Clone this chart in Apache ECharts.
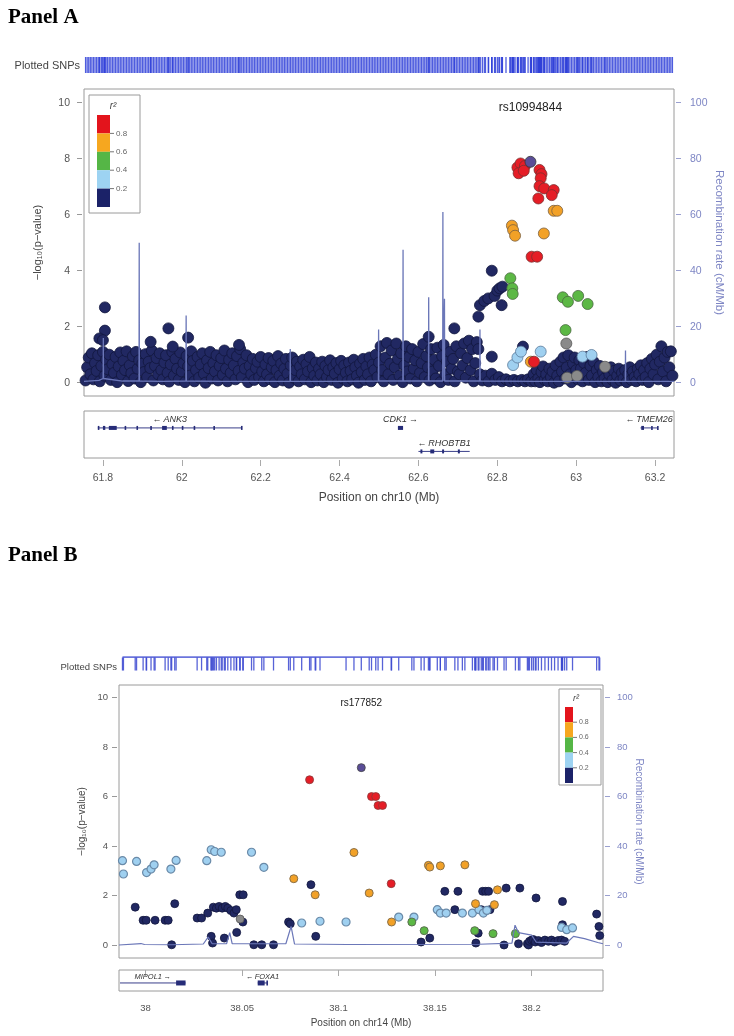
<!DOCTYPE html>
<html><head><meta charset="utf-8">
<script src="https://cdn.jsdelivr.net/npm/echarts@6/dist/echarts.min.js"></script>
<style>html,body{margin:0;padding:0;background:#fff}#c{width:734px;height:1036px}</style>
</head><body><div id="c"></div>
<script>
// ---------------- Panel A data (chr10, Mb / -log10 p) ----------------
const xTicksA = [61.8, 62, 62.2, 62.4, 62.6, 62.8, 63, 63.2];
const xTicksB = [38, 38.05, 38.1, 38.15, 38.2];
const yTicks = [0, 2, 4, 6, 8, 10];
const recTicks = [0, 20, 40, 60, 80, 100];
const r2Labels = ['0.8', '0.6', '0.4', '0.2'];

const navyA = [
[61.756,0.08],[61.760,0.55],[61.764,0.9],[61.768,0.3],[61.772,1.05],[61.776,0.12],[61.780,0.7],[61.784,0.42],[61.788,0.98],[61.792,0.05],[61.796,0.6],[61.800,1.1],[61.804,0.25],[61.808,0.82],[61.812,0.48],[61.816,1.0],[61.820,0.1],[61.824,0.66],[61.828,0.35],[61.832,0.92],[61.836,0.02],[61.840,0.58],[61.844,1.08],[61.848,0.28],[61.852,0.78],[61.856,0.45],[61.860,1.12],
[61.864,0.06],[61.868,0.62],[61.872,0.34],[61.876,0.95],[61.880,0.15],[61.884,1.1],[61.888,0.5],[61.892,0.8],[61.896,0.02],[61.900,0.68],[61.904,0.38],[61.908,1.02],[61.912,0.2],[61.916,0.75],[61.920,0.52],[61.924,1.15],[61.928,0.08],[61.932,0.6],[61.936,0.88],[61.940,0.3],[61.944,1.05],[61.948,0.45],[61.952,0.12],[61.956,0.72],[61.960,0.98],[61.964,0.35],[61.968,0.04],[61.972,0.65],[61.976,1.1],[61.980,0.25],
[61.984,0.85],[61.988,0.5],[61.992,0.1],[61.996,1.08],[62.000,0.4],[62.004,0.7],[62.008,0.02],[62.012,0.95],[62.016,0.58],[62.020,0.25],[62.024,1.12],[62.028,0.78],[62.032,0.05],[62.036,0.45],[62.040,0.92],[62.044,0.18],[62.048,0.65],[62.052,1.05],[62.056,0.32],[62.060,0.0],[62.064,0.8],[62.068,0.52],[62.072,1.1],[62.076,0.15],[62.080,0.7],[62.084,0.4],[62.088,0.98],[62.092,0.08],[62.096,0.6],[62.100,0.88],
[62.104,0.28],[62.108,1.15],[62.112,0.5],[62.116,0.05],[62.120,0.82],[62.124,0.35],[62.128,1.05],[62.132,0.62],[62.136,0.12],[62.140,0.95],[62.144,0.42],[62.148,1.2],[62.152,0.2],[62.156,0.72],[62.160,0.5],[62.164,0.98],[62.168,0.02],
[62.172,0.6],[62.176,0.3],[62.180,0.85],[62.184,0.1],[62.188,0.52],[62.192,0.75],[62.196,0.2],[62.200,0.92],[62.204,0.4],[62.208,0.05],[62.212,0.65],[62.216,0.3],[62.220,0.88],[62.224,0.12],[62.228,0.55],[62.232,0.78],[62.236,0.02],[62.240,0.45],[62.244,0.95],[62.248,0.25],[62.252,0.68],[62.256,0.08],[62.260,0.5],[62.264,0.85],[62.268,0.32],[62.272,0.0],[62.276,0.62],[62.280,0.9],[62.284,0.18],[62.288,0.45],[62.292,0.75],[62.296,0.05],[62.300,0.58],[62.304,0.3],[62.308,0.82],[62.312,0.12],[62.316,0.66],[62.320,0.4],[62.324,0.92],[62.328,0.02],[62.332,0.52],[62.336,0.25],[62.340,0.72],
[62.344,0.08],[62.348,0.5],[62.352,0.3],[62.356,0.75],[62.360,0.02],[62.364,0.6],[62.368,0.2],[62.372,0.45],[62.376,0.8],[62.380,0.1],[62.384,0.55],[62.388,0.32],[62.392,0.7],[62.396,0.0],[62.400,0.48],[62.404,0.78],[62.408,0.15],[62.412,0.62],[62.416,0.35],[62.420,0.05],[62.424,0.72],[62.428,0.42],[62.432,0.12],[62.436,0.82],[62.440,0.55],[62.444,0.25],[62.448,0.0],[62.452,0.68],[62.456,0.38],[62.460,0.85],[62.464,0.1],[62.468,0.58],[62.472,0.3],[62.476,0.9],[62.480,0.05],[62.484,0.65],[62.488,0.45],
[62.492,1.0],[62.496,0.2],[62.500,0.72],[62.504,1.3],[62.508,0.45],[62.512,0.05],[62.516,0.9],[62.520,1.42],[62.524,0.3],[62.528,0.68],[62.532,1.15],[62.536,0.1],[62.540,0.55],[62.544,1.4],[62.548,0.85],[62.552,0.25],[62.556,1.05],[62.560,0.02],[62.564,0.62],[62.568,1.3],[62.572,0.4],[62.576,0.92],[62.580,0.15],[62.584,1.2],[62.588,0.5],[62.592,0.8],[62.596,0.05],[62.600,1.1],[62.604,0.35],[62.608,0.7],[62.612,1.38],[62.616,0.2],[62.620,0.95],[62.624,0.55],[62.628,0.08],[62.632,1.2],[62.636,0.4],[62.640,0.82],
[62.644,0.15],[62.648,1.25],[62.652,0.6],[62.656,0.02],[62.660,0.95],[62.664,1.35],[62.668,0.3],[62.672,0.75],[62.676,0.1],[62.680,1.1],[62.684,0.5],[62.688,0.85],[62.692,0.05],[62.696,1.3],[62.700,0.4],[62.704,0.3],[62.708,1.05],[62.712,0.62],[62.716,1.4],[62.720,0.18],[62.724,0.88],[62.728,1.5],[62.732,0.45],[62.736,1.2],[62.740,0.05],[62.744,0.7],[62.748,1.45],[62.752,1.2],[62.756,0.3],
[62.762,0.08],[62.770,0.25],[62.778,0.05],[62.786,0.32],[62.795,0.1],[62.804,0.2],[62.812,0.05],[62.822,0.12],[62.832,0.05],[62.842,0.1],[62.852,0.05],[62.862,0.1],[62.870,0.05],[62.878,0.12],[62.886,0.05],
[62.892,0.3],[62.896,0.05],[62.900,0.45],[62.904,0.15],[62.908,0.02],[62.912,0.38],[62.916,0.58],[62.920,0.1],[62.924,0.3],[62.928,0.05],[62.932,0.5],[62.936,0.2],[62.940,0.4],[62.944,0.0],[62.948,0.62],
[62.952,0.25],[62.956,0.05],[62.960,0.75],[62.964,0.4],[62.968,0.9],[62.972,0.15],[62.976,0.55],[62.980,0.98],[62.984,0.3],[62.988,0.02],[62.992,0.68],[62.996,0.9],[63.000,0.45],[63.004,0.12],[63.008,0.8],[63.012,0.5],[63.016,0.05],[63.020,0.7],[63.024,0.35],[63.028,0.92],[63.032,0.1],[63.036,0.6],[63.040,0.25],[63.044,0.75],[63.048,0.02],
[63.052,0.45],[63.056,0.2],[63.060,0.6],[63.064,0.05],[63.068,0.38],[63.072,0.15],[63.076,0.5],[63.080,0.02],[63.084,0.3],[63.088,0.55],[63.092,0.1],[63.096,0.42],[63.100,0.0],[63.104,0.25],[63.108,0.5],[63.112,0.08],[63.116,0.35],[63.120,0.15],[63.124,0.45],[63.128,0.02],[63.132,0.3],[63.136,0.55],[63.140,0.1],[63.144,0.4],[63.148,0.2],[63.152,0.05],[63.156,0.5],[63.160,0.3],[63.164,0.62],[63.168,0.1],[63.172,0.45],[63.176,0.2],[63.180,0.7],[63.184,0.02],[63.188,0.5],[63.192,0.85],[63.196,0.3],
[63.200,0.65],[63.204,1.0],[63.208,0.12],[63.212,0.75],[63.216,1.3],[63.220,0.4],[63.224,0.9],[63.228,0.05],[63.232,1.1],[63.236,0.55],[63.240,1.12],[63.244,0.25],
// higher navy SNPs
[61.805,2.69],[61.805,1.86],[61.791,1.58],[61.800,1.52],[61.966,1.94],[61.977,1.29],[62.016,1.61],[61.921,1.46],[62.145,1.35],
[62.691,1.94],[62.626,1.64],[62.865,1.29],[62.752,2.36],[62.756,2.77],[62.767,2.92],[62.777,3.01],[62.786,4.00],[62.793,3.10],
[62.800,3.29],[62.806,3.37],[62.813,3.43],[62.811,2.77],[62.786,0.93]
];
const grayA   = [[62.975,1.40],[62.977,0.18],[63.002,0.24],[63.073,0.57]];
const lblueA  = [[62.840,0.63],[62.851,0.90],[62.860,1.11],[62.910,1.11],[63.016,0.93],[63.039,0.99]];
const greenA  = [[62.833,3.73],[62.838,3.37],[62.839,3.17],[62.966,3.05],[62.979,2.89],[63.005,3.10],[63.029,2.81],[62.973,1.88]];
const orangeA = [[62.837,5.61],[62.840,5.45],[62.845,5.25],[62.918,5.33],[62.943,6.14],[62.952,6.14],[62.885,0.75]];
const redA    = [[62.851,7.69],[62.859,7.83],[62.870,7.74],[62.854,7.48],[62.867,7.57],[62.907,7.60],[62.912,7.45],[62.910,7.30],
                 [62.907,7.02],[62.919,6.94],[62.904,6.58],[62.943,6.88],[62.938,6.70],[62.887,4.50],[62.901,4.50],[62.893,0.75]];
const leadA   = [[62.884,7.89]];
const leadNameA = 'rs10994844';

// recombination rate (cM/Mb), panel A
const recA = [[61.752,0.5],[61.790,0.8],[61.8005,1.5],[61.801,16],[61.8015,1.5],[61.85,0.6],[61.8915,0.6],[61.892,50],[61.8925,0.6],
 [61.95,0.5],[62.0105,0.6],[62.011,24],[62.0115,0.6],[62.1,0.5],[62.2745,0.5],[62.275,12],[62.2755,0.5],[62.4,0.5],
 [62.4985,0.6],[62.499,19],[62.4995,0.6],[62.5605,0.6],[62.561,47.5],[62.5615,0.6],[62.6255,0.6],[62.626,30.5],[62.6265,0.6],
 [62.6615,0.6],[62.662,61],[62.6625,0.6],[62.6655,0.6],[62.666,30],[62.6665,0.6],[62.7555,0.6],[62.756,19],[62.7565,0.6],
 [62.9,0.5],[63.1245,0.5],[63.125,11.5],[63.1255,0.5],[63.248,0.5]];

// genes: [start, end, row, name, strand]
const genesA = [[61.787,62.152,1,'ANK3',-1],[62.548,62.561,1,'CDK1',1],[62.600,62.730,2,'RHOBTB1',-1],[63.163,63.207,1,'TMEM26',-1]];
const exonsA = [[61.787,61.789,1],[61.800,61.806,1],[61.815,61.835,1],[61.855,61.858,1],[61.885,61.888,1],[61.920,61.923,1],
 [61.950,61.962,1],[61.975,61.978,1],[62.000,62.003,1],[62.030,62.033,1],[62.080,62.083,1],[62.150,62.152,1],[62.548,62.561,1],
 [62.605,62.610,2],[62.630,62.640,2],[62.660,62.665,2],[62.700,62.705,2],[63.165,63.172,1],[63.190,63.193,1],[63.205,63.207,1]];

// ---------------- Panel B data (chr14) ----------------
const navyB = [[37.9946,1.53],[37.9987,1.00],[38.0003,1.00],[38.0049,1.00],[38.0101,1.00],[38.0117,1.00],[38.0135,0.01],[38.0151,1.67],
 [38.0267,1.09],[38.0290,1.09],[38.0322,1.29],[38.0340,0.35],[38.0347,0.08],[38.0351,1.53],[38.0367,1.49],[38.0381,1.56],[38.0397,1.49],
 [38.0413,1.56],[38.0408,0.28],[38.0426,1.49],[38.0442,1.39],[38.0458,1.29],[38.0470,1.43],[38.0472,0.51],[38.0504,0.93],[38.0488,2.03],
 [38.0506,2.03],[38.0561,0.01],[38.0602,0.01],[38.0663,0.01],[38.0741,0.93],[38.0750,0.86],[38.0857,2.44],[38.0882,0.35],
 [38.1428,0.12],[38.1473,0.28],[38.1551,2.17],[38.1603,1.43],[38.1619,2.17],[38.1712,0.08],[38.1724,0.48],[38.1740,1.43],
 [38.1747,2.17],[38.1763,2.17],[38.1778,2.17],[38.1785,1.43],[38.1858,0.0],[38.1869,2.30],[38.1933,0.05],[38.1940,2.30],
 [38.1979,0.05],[38.1985,0.0],[38.1990,0.15],[38.2001,0.2],[38.2010,0.22],[38.2020,0.12],[38.2036,0.18],[38.2052,0.1],[38.2070,0.2],
 [38.2088,0.15],[38.2104,0.2],[38.2120,0.12],[38.2138,0.18],[38.2156,0.2],[38.2172,0.15],[38.2024,1.90],[38.2161,1.76],[38.2161,0.82],
 [38.2338,1.25],[38.2350,0.75],[38.2354,0.38]];
const grayB   = [[38.0490,1.05]];
const lblueB  = [[37.9880,3.41],[37.9885,2.87],[37.9953,3.38],[38.0005,2.93],[38.0028,3.07],[38.0044,3.24],[38.0131,3.07],[38.0158,3.42],
 [38.0317,3.41],[38.0340,3.85],[38.0358,3.78],[38.0392,3.75],[38.0549,3.75],[38.0613,3.14],[38.0809,0.89],[38.0904,0.96],[38.1039,0.93],
 [38.1312,1.13],[38.1391,1.13],[38.1512,1.43],[38.1528,1.29],[38.1558,1.29],[38.1642,1.29],[38.1694,1.29],[38.1728,1.43],[38.1751,1.29],
 [38.1769,1.40],[38.2156,0.71],[38.2183,0.62],[38.2213,0.69]];
const greenB  = [[38.1380,0.93],[38.1444,0.58],[38.1706,0.58],[38.1801,0.46],[38.1917,0.46]];
const orangeB = [[38.0768,2.68],[38.0879,2.03],[38.1080,3.74],[38.1159,2.10],[38.1275,0.93],[38.1466,3.22],[38.1473,3.15],[38.1528,3.20],
 [38.1655,3.24],[38.1710,1.67],[38.1808,1.63],[38.1824,2.23]];
const redB    = [[38.0850,6.68],[38.1171,6.00],[38.1193,6.00],[38.1205,5.64],[38.1228,5.64],[38.1273,2.48]];
const leadB   = [[38.1118,7.17]];
const leadNameB = 'rs177852';

const recB = [[37.9862,0],[37.9976,0.6],[37.9994,0.2],[38.0135,0.1],[38.0299,0.4],[38.0324,3.2],[38.0345,0.5],[38.0420,0.6],[38.0436,5.0],
 [38.0449,0.5],[38.0727,0.5],[38.0754,7.5],[38.0772,0.4],[38.1045,0.2],[38.1728,0.3],[38.1899,0.8],[38.1915,8.0],[38.1933,5.0],
 [38.2001,4.0],[38.2024,1.2],[38.2183,0.8],[38.2218,3.5],[38.2275,2.6],[38.2344,1.0],[38.2371,0.5]];

const genesB = [[37.90,38.0207,1,'MIPOL1',1],[38.0581,38.0630,1,'FOXA1',-1]];
const exonsB = [[38.0158,38.0207,1],[38.0581,38.0617,1],[38.0626,38.0630,1]];

// ---------------- styling ----------------
const C = {navy:'#212862', lblue:'#9fd0f0', green:'#5cb845', orange:'#f2a127', red:'#e51d26', lead:'#5a4d97', gray:'#8a8a8a'};
const legendColors = ['#e3141c','#f6a71f','#55b646','#9dd3f2','#1b2268'];
const FONT = 'Liberation Sans';

const chart = echarts.init(document.getElementById('c'), null, {renderer:'canvas'});

function pts(data, color, border, xi, yi, size, bw){
  return {type:'scatter', xAxisIndex:xi, yAxisIndex:yi, data, symbolSize:size, clip:true, silent:true, animation:false,
    itemStyle:{color, borderColor:border, borderWidth:bw, opacity:1}};
}
function rug(positions, xi, yi, h, color){
  return {type:'scatter', xAxisIndex:xi, yAxisIndex:yi, data:positions.map(p=>[p,0.5]), symbol:'rect', symbolSize:[1.3,h],
    silent:true, animation:false, itemStyle:{color, opacity:0.85}};
}
function recLine(data, xi, yi, w){
  return {type:'line', xAxisIndex:xi, yAxisIndex:yi, data, showSymbol:false, silent:true, animation:false,
    lineStyle:{color:'#6b77b8', width:w}};
}
function geneSeries(genes, xi, yi, fs, lblOff){
  return {type:'custom', xAxisIndex:xi, yAxisIndex:yi, silent:true, animation:false, clip:false,
    data: genes.map(g=>[g[0],g[1],g[2]]), encode:{x:[0,1], y:2},
    renderItem(params, api){
      const g = genes[params.dataIndex], cs = params.coordSys;
      const a = api.coord([g[0], g[2]]), b = api.coord([g[1], g[2]]);
      const x1 = Math.max(a[0], cs.x+1), x2 = Math.min(b[0], cs.x+cs.width-1), y = a[1];
      const label = g[4] < 0 ? '\u2190\u2009' + g[3] : g[3] + '\u2009\u2192';
      const w = label.length * fs * 0.58;
      let tx = (x1+x2)/2, align = 'center';
      if (tx - w/2 < cs.x + 3) { tx = cs.x + 3; align = 'left'; }
      if (tx + w/2 > cs.x + cs.width - 3) { tx = cs.x + cs.width - 3; align = 'right'; }
      return {type:'group', children:[
        {type:'line', shape:{x1, y1:y, x2, y2:y}, style:{stroke:'#3a3f8a', lineWidth:1}},
        {type:'text', x:tx, y:y-lblOff, style:{text:label, align, verticalAlign:'middle',
          font:'italic ' + fs + 'px "' + FONT + '"', fill:'#333'}}
      ]};
    }};
}
function exonSeries(exons, xi, yi, h){
  return {type:'custom', xAxisIndex:xi, yAxisIndex:yi, silent:true, animation:false,
    data: exons, encode:{x:[0,1], y:2},
    renderItem(params, api){
      const a = api.coord([api.value(0), api.value(2)]), b = api.coord([api.value(1), api.value(2)]);
      const w = Math.max(b[0]-a[0], 1.6);
      return {type:'rect', shape:{x:a[0], y:a[1]-h/2, width:w, height:h}, style:{fill:'#262c78'}};
    }};
}
function hiddenX(gi, mn, mx){ return {type:'value', gridIndex:gi, min:mn, max:mx, show:false}; }
function hiddenY(gi, mn, mx, inv){ return {type:'value', gridIndex:gi, min:mn, max:mx, show:false, inverse:!!inv}; }
function bottomX(gi, mn, mx, ticks, name, fs, nfs, margin, gap){
  return {type:'value', gridIndex:gi, min:mn, max:mx, position:'bottom', offset:2,
    axisLine:{show:false}, splitLine:{show:false},
    axisTick:{show:true, customValues:ticks, length:6, lineStyle:{color:'#aaa'}},
    axisLabel:{customValues:ticks, margin, color:'#555', fontSize:fs, fontFamily:FONT},
    name, nameLocation:'middle', nameGap:gap, nameMoveOverlap:false,
    nameTextStyle:{color:'#444', fontSize:nfs, fontFamily:FONT}};
}
function leftY(gi, mn, mx, fs, nfs, margin, gap){
  return {type:'value', gridIndex:gi, position:'left', min:mn, max:mx, offset:2,
    axisLine:{show:false}, splitLine:{show:false},
    axisTick:{show:true, customValues:yTicks, length:5, lineStyle:{color:'#999'}},
    axisLabel:{customValues:yTicks, margin, color:'#555', fontSize:fs, fontFamily:FONT},
    name:'\u2212log\u2081\u2080(p\u2212value)', nameLocation:'middle', nameRotate:90, nameGap:gap, nameMoveOverlap:false,
    nameTextStyle:{color:'#444', fontSize:nfs, fontFamily:FONT}};
}
function rightY(gi, mn, mx, fs, nfs, margin, gap){
  return {type:'value', gridIndex:gi, position:'right', min:mn, max:mx, offset:2,
    axisLine:{show:false}, splitLine:{show:false},
    axisTick:{show:true, customValues:recTicks, length:5, lineStyle:{color:'#9aa0d0'}},
    axisLabel:{customValues:recTicks, margin, color:'#7e86c4', fontSize:fs, fontFamily:FONT},
    name:'Recombination rate (cM/Mb)', nameLocation:'middle', nameRotate:-90, nameGap:gap, nameMoveOverlap:false,
    nameTextStyle:{color:'#7e86c4', fontSize:nfs, fontFamily:FONT}};
}
function legendBox(x, y, w, h, bx, by, bw, bh, fs){
  const ch = [{type:'rect', shape:{x:0, y:0, width:w, height:h}, style:{fill:'#fff', stroke:'#9a9a9a', lineWidth:1}},
    {type:'text', x:bx+bw+3, y:by-9, style:{text:'r\u00b2', font:'italic ' + (fs+2) + 'px "' + FONT + '"', fill:'#444', align:'center', verticalAlign:'middle'}}];
  legendColors.forEach((c,i)=>ch.push({type:'rect', shape:{x:bx, y:by+i*bh, width:bw, height:bh}, style:{fill:c}}));
  r2Labels.forEach((t,i)=>{
    const yy = by + (i+1)*bh;
    ch.push({type:'line', shape:{x1:bx+bw, y1:yy, x2:bx+bw+4, y2:yy}, style:{stroke:'#777', lineWidth:1}});
    ch.push({type:'text', x:bx+bw+6, y:yy, style:{text:t, font:fs+'px "'+FONT+'"', fill:'#666', verticalAlign:'middle'}});
  });
  return {type:'group', x, y, silent:true, children:ch};
}

const RA = [61.752, 63.248], RB = [37.9862, 38.2371];
const rugAPos = [].concat(navyA, grayA, lblueA, greenA, orangeA, redA, leadA).map(d=>d[0]);
const rugBPos = [].concat(navyB, grayB, lblueB, greenB, orangeB, redB, leadB).map(d=>d[0]);

const titleStyle = {fontFamily:'Liberation Serif', fontWeight:'bold', fontSize:21, color:'#000'};
const option = {
  animation:false,
  backgroundColor:'#fff',
  title:[
    {text:'Panel A', left:8, top:7, padding:0, textStyle:titleStyle},
    {text:'Panel B', left:8, top:545, padding:0, textStyle:titleStyle}
  ],
  grid:[
    {left:84, top:57, width:590, height:16},
    {left:84, top:89, width:590, height:307, show:true, borderColor:'#9a9a9a', borderWidth:1},
    {left:84, top:411, width:590, height:47, show:true, borderColor:'#9a9a9a', borderWidth:1},
    {left:119, top:657, width:484, height:14},
    {left:119, top:685, width:484, height:273, show:true, borderColor:'#9a9a9a', borderWidth:1},
    {left:119, top:970, width:484, height:21, show:true, borderColor:'#9a9a9a', borderWidth:1}
  ],
  xAxis:[
    hiddenX(0, RA[0], RA[1]), hiddenX(1, RA[0], RA[1]),
    bottomX(2, RA[0], RA[1], xTicksA, 'Position on chr10 (Mb)', 10.5, 12, 13, 32),
    hiddenX(3, RB[0], RB[1]), hiddenX(4, RB[0], RB[1]),
    bottomX(5, RB[0], RB[1], xTicksB, 'Position on chr14 (Mb)', 9.5, 10, 10, 25)
  ],
  yAxis:[
    hiddenY(0, 0, 1),
    leftY(1, -0.475, 10.49, 10.5, 11, 12, 39),
    rightY(1, -4.75, 104.9, 10.5, 11.5, 14, 37),
    hiddenY(2, 0.28, 2.28, true),
    hiddenY(3, 0, 1),
    leftY(4, -0.525, 10.51, 9.5, 10, 9, 30),
    rightY(4, -5.25, 105.1, 9.5, 10, 12, 29),
    hiddenY(5, 0, 1.62, true)
  ],
  series:[
    rug(rugAPos, 0, 0, 16, '#2f3fd8'),
    recLine(recA, 1, 2, 1.3),
    pts(navyA, C.navy, '#12163e', 1, 1, 11, 0.8),
    pts(grayA, C.gray, '#555', 1, 1, 11, 0.8),
    pts(lblueA, C.lblue, '#5a7a9a', 1, 1, 11, 0.8),
    pts(greenA, C.green, '#4a6a40', 1, 1, 11, 0.8),
    pts(orangeA, C.orange, '#7a6040', 1, 1, 11, 0.8),
    pts(redA, C.red, '#7a3030', 1, 1, 11, 0.8),
    pts(leadA, C.lead, '#333', 1, 1, 11, 0.8),
    geneSeries(genesA, 2, 3, 9, 8),
    exonSeries(exonsA, 2, 3, 4),
    // Panel B
    rug(rugBPos, 3, 4, 13, '#3a46d0'),
    {type:'line', xAxisIndex:3, yAxisIndex:4, silent:true, animation:false, showSymbol:false,
      data:[[Math.min(...rugBPos),1],[Math.max(...rugBPos),1]], lineStyle:{color:'#3a46d0', width:1.5}},
    recLine(recB, 4, 6, 1.2),
    pts(navyB, C.navy, '#12163e', 4, 5, 8, 0.8),
    pts(grayB, C.gray, '#555', 4, 5, 8, 0.8),
    pts(lblueB, C.lblue, '#6a8aa8', 4, 5, 8, 1.2),
    pts(greenB, C.green, '#5a7050', 4, 5, 8, 1),
    pts(orangeB, C.orange, '#8a7048', 4, 5, 8, 1),
    pts(redB, C.red, '#8a3838', 4, 5, 8, 0.8),
    pts(leadB, C.lead, '#444', 4, 5, 8, 0.8),
    geneSeries(genesB, 5, 7, 7.5, 6),
    exonSeries(exonsB, 5, 7, 5)
  ]
};
chart.setOption(option);

function buildGraphic(){
  const ax = chart.convertToPixel({xAxisIndex:1}, leadA[0][0]);
  const bx = chart.convertToPixel({xAxisIndex:4}, leadB[0][0]);
  return [
    {type:'text', x:80, y:66, silent:true, style:{text:'Plotted SNPs', font:'11px "'+FONT+'"', fill:'#444', align:'right', verticalAlign:'middle'}},
    {type:'text', x:117, y:667, silent:true, style:{text:'Plotted SNPs', font:'9.5px "'+FONT+'"', fill:'#444', align:'right', verticalAlign:'middle'}},
    {type:'text', x:ax, y:108, silent:true, style:{text:leadNameA, font:'12px "'+FONT+'"', fill:'#222', align:'center', verticalAlign:'middle'}},
    {type:'text', x:bx, y:703, silent:true, style:{text:leadNameB, font:'10px "'+FONT+'"', fill:'#222', align:'center', verticalAlign:'middle'}},
    legendBox(89, 95, 51, 118, 8, 20, 13, 18.4, 8),
    legendBox(559, 689, 42, 96, 6, 18, 8, 15.2, 7)
  ];
}
chart.setOption({graphic: buildGraphic()});
</script></body></html>
